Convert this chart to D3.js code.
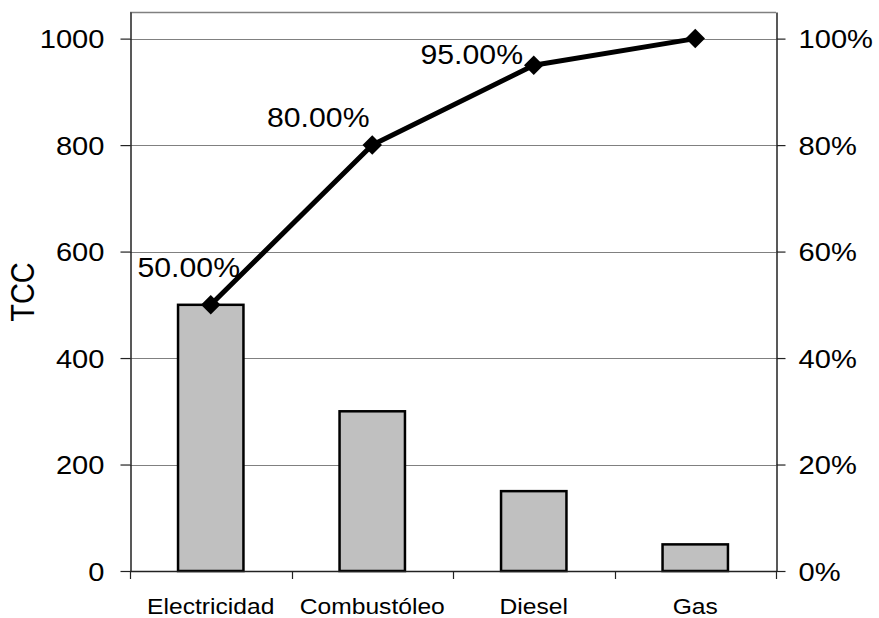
<!DOCTYPE html>
<html>
<head>
<meta charset="utf-8">
<script src="https://cdn.jsdelivr.net/npm/d3@7/dist/d3.min.js"></script>
<style>
  html, body { margin: 0; padding: 0; background: #fff; }
  svg { display: block; }
  text { font-family: "Liberation Sans", Arial, sans-serif; fill: #000; }
</style>
</head>
<body>
<svg id="chart" width="879" height="618"></svg>
<script>
// ---- data ----
const categories = ["Electricidad", "Combustóleo", "Diesel", "Gas"];
const tccValues = [500, 300, 150, 50];
const cumulativePct = [0.50, 0.80, 0.95, 1.00];
const pctLabels = ["50.00%", "80.00%", "95.00%", ""];
const leftTicks = [0, 200, 400, 600, 800, 1000];
const rightTicks = [0, 0.2, 0.4, 0.6, 0.8, 1.0];
const yAxisTitle = "TCC";

// ---- layout ----
const W = 879, H = 618;
const plot = { left: 130, right: 776, top: 12, bottom: 571 };
const STRETCH = 1.12;
const labelOffsets = [[-22, -38], [-54, -28], [-62, -11], [0, 0]];

const svg = d3.select("#chart");

const x = d3.scaleBand().domain(categories).range([plot.left, plot.right]).padding(0);
const y = d3.scaleLinear().domain([0, 1050]).range([plot.bottom, plot.top]);
const yPct = d3.scaleLinear().domain([0, 1.05]).range([plot.bottom, plot.top]);
const barW = x.bandwidth() * 0.405;
const cx = c => x(c) + x.bandwidth() / 2;

// gridlines
svg.append("g").selectAll("line").data(leftTicks).join("line")
  .attr("x1", plot.left).attr("x2", plot.right)
  .attr("y1", d => Math.round(y(d)) + 0.5).attr("y2", d => Math.round(y(d)) + 0.5)
  .attr("stroke", "#808080").attr("stroke-width", 1);

// top border
svg.append("line")
  .attr("x1", plot.left).attr("x2", plot.right)
  .attr("y1", plot.top + 0.5).attr("y2", plot.top + 0.5)
  .attr("stroke", "#808080").attr("stroke-width", 1.5);

// bars
svg.append("g").selectAll("rect").data(categories).join("rect")
  .attr("x", (c) => cx(c) - barW / 2)
  .attr("width", barW)
  .attr("y", (c, i) => y(tccValues[i]))
  .attr("height", (c, i) => y(0) - y(tccValues[i]))
  .attr("fill", "#c0c0c0")
  .attr("stroke", "#000").attr("stroke-width", 2.5);

// left axis
const gL = svg.append("g").attr("transform", `translate(${plot.left + 0.5},0)`)
  .call(d3.axisLeft(y).tickValues(leftTicks).tickFormat(d3.format("d")).tickSize(10).tickSizeOuter(0).tickPadding(0));
gL.select(".domain").attr("stroke", "#222").attr("stroke-width", 1.5);
gL.selectAll(".tick line").attr("stroke", "#222").attr("stroke-width", 1.2);
gL.selectAll(".tick text")
  .attr("x", 0).attr("dy", "0.36em")
  .attr("text-anchor", "end")
  .attr("transform", `translate(-26,0) scale(${STRETCH},1)`)
  .style("font-size", "26px").style("font-family", "'Liberation Sans', Arial, sans-serif");

// right axis
const gR = svg.append("g").attr("transform", `translate(${plot.right + 0.5},0)`)
  .call(d3.axisRight(yPct).tickValues(rightTicks).tickFormat(d3.format(".0%")).tickSize(9).tickSizeOuter(0).tickPadding(0));
gR.select(".domain").attr("stroke", "#222").attr("stroke-width", 1.5);
gR.selectAll(".tick line").attr("stroke", "#222").attr("stroke-width", 1.2);
gR.selectAll(".tick text")
  .attr("x", 0).attr("dy", "0.36em")
  .attr("text-anchor", "start")
  .attr("transform", `translate(22,0) scale(${STRETCH},1)`)
  .style("font-size", "26px").style("font-family", "'Liberation Sans', Arial, sans-serif");

// bottom axis line + ticks at band boundaries
svg.append("line")
  .attr("x1", plot.left).attr("x2", plot.right + 1)
  .attr("y1", Math.round(y(0)) + 0.5).attr("y2", Math.round(y(0)) + 0.5)
  .attr("stroke", "#222").attr("stroke-width", 1.5);
const boundaries = categories.map(c => x(c)).concat([plot.right]);
svg.append("g").selectAll("line").data(boundaries).join("line")
  .attr("x1", d => Math.round(d) + 0.5).attr("x2", d => Math.round(d) + 0.5)
  .attr("y1", y(0)).attr("y2", y(0) + 8)
  .attr("stroke", "#222").attr("stroke-width", 1.2);

// category labels
svg.append("g").selectAll("text").data(categories).join("text")
  .attr("text-anchor", "middle")
  .attr("transform", c => `translate(${cx(c)},614) scale(${STRETCH},1)`)
  .style("font-size", "22px")
  .text(c => c);

// y-axis title
svg.append("text")
  .attr("text-anchor", "middle")
  .attr("transform", `translate(34,292) scale(${STRETCH},1) rotate(-90)`)
  .style("font-size", "29px")
  .text(yAxisTitle);

// cumulative line
const line = d3.line().x((c) => cx(c)).y((c, i) => yPct(cumulativePct[i]));
svg.append("path").datum(categories)
  .attr("d", line)
  .attr("fill", "none").attr("stroke", "#000").attr("stroke-width", 5)
  .attr("stroke-linejoin", "round");

// diamond markers
svg.append("g").selectAll("path").data(categories).join("path")
  .attr("d", d3.symbol(d3.symbolSquare, 190)())
  .attr("transform", (c, i) => `translate(${cx(c)},${yPct(cumulativePct[i])}) rotate(45)`)
  .attr("fill", "#000");

// data labels
svg.append("g").selectAll("text").data(categories).join("text")
  .attr("text-anchor", "middle")
  .attr("dy", "0.36em")
  .attr("transform", (c, i) => `translate(${cx(c) + labelOffsets[i][0]},${yPct(cumulativePct[i]) + labelOffsets[i][1]}) scale(${STRETCH},1)`)
  .style("font-size", "27px")
  .text((c, i) => pctLabels[i]);
</script>
</body>
</html>
